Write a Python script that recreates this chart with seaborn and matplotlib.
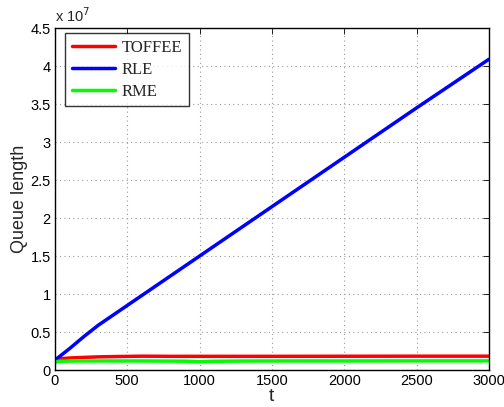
import matplotlib
matplotlib.use("Agg")
import matplotlib.pyplot as plt
import seaborn as sns
import pandas as pd
import numpy as np

t_rle = [0, 100, 200, 300, 600, 1000, 1500, 2000, 2500, 3000]
rle = [1.3e6, 2.8e6, 4.4e6, 5.9e6, 9.8e6, 1.5e7, 2.15e7, 2.8e7, 3.45e7, 4.09e7]

t_toffee = [0, 30, 60, 100, 200, 300, 450, 600, 800, 1000, 1500, 2000, 2500, 3000]
toffee = [1.3e6, 1.45e6, 1.52e6, 1.58e6, 1.66e6, 1.73e6, 1.78e6, 1.82e6, 1.8e6, 1.8e6, 1.8e6, 1.81e6, 1.82e6, 1.82e6]

t_rme = [0, 10, 30, 100, 300, 600, 900, 1000, 1100, 1300, 1600, 2000, 2500, 3000]
rme = [0.9e6, 1.1e6, 1.15e6, 1.18e6, 1.19e6, 1.19e6, 1.16e6, 1.1e6, 1.15e6, 1.18e6, 1.19e6, 1.19e6, 1.2e6, 1.2e6]

series = ["TOFFEE", "RLE", "RME"]
colors = ["#ff0000", "#0000ff", "#00ff00"]

df = pd.concat([
    pd.DataFrame({"t": t_toffee, "q": toffee, "method": "TOFFEE"}),
    pd.DataFrame({"t": t_rle, "q": rle, "method": "RLE"}),
    pd.DataFrame({"t": t_rme, "q": rme, "method": "RME"}),
])

sns.set_style("white")
plt.rcParams["font.family"] = ["Liberation Sans", "DejaVu Sans"]

fig = plt.figure(figsize=(5.04, 4.07), dpi=100)
ax = fig.add_axes([0.109, 0.0909, 0.861, 0.840])

sns.lineplot(data=df, x="t", y="q", hue="method", hue_order=series,
             palette=colors, linewidth=2.5, ax=ax, sort=True, estimator=None)

ax.set_xlim(0, 3000)
ax.set_ylim(0, 4.5e7)
ax.set_xticks(np.arange(0, 3001, 500))
yt = np.arange(0, 4.51e7, 0.5e7)
ax.set_yticks(yt)
ax.set_yticklabels(["0", "0.5", "1", "1.5", "2", "2.5", "3", "3.5", "4", "4.5"])
ax.tick_params(direction="in", length=4, width=0.6, top=True, right=True,
               labelsize=10.5, colors="black", pad=3)
ax.grid(True, linestyle=(0, (1, 3)), color="#999999", linewidth=0.8)
for s in ax.spines.values():
    s.set_color("black")
    s.set_linewidth(1.0)

ax.set_xlabel("t", fontsize=14, labelpad=0)
ax.set_ylabel("Queue length", fontsize=13, labelpad=2)
ax.text(0.0, 1.008, "x 10$^{7}$", transform=ax.transAxes, fontsize=10.5,
        ha="left", va="bottom")

leg = ax.legend(loc="upper left", bbox_to_anchor=(0.023, 0.985),
                borderaxespad=0,
                prop={"family": "Liberation Serif", "size": 12},
                frameon=True, fancybox=False, edgecolor="black",
                handlelength=2.6, borderpad=0.4, labelspacing=0.35,
                handletextpad=0.4)
leg.get_frame().set_linewidth(1.0)
leg.set_title(None)

fig.savefig("out.png", dpi=100)
